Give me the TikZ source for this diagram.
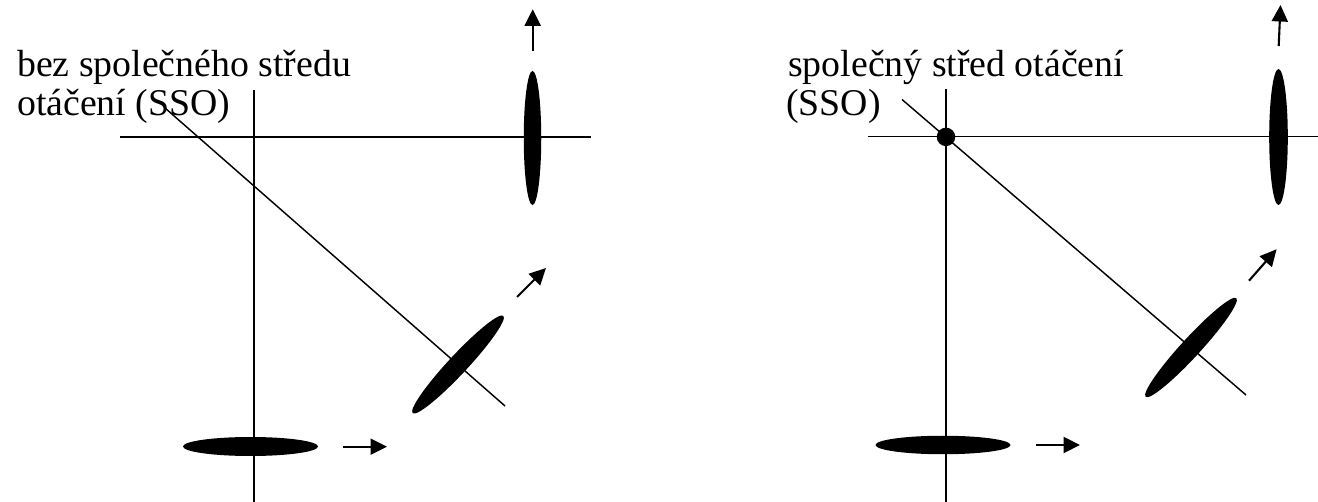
\documentclass[tikz,border=0pt]{standalone}
\usepackage{fontspec}
\setmainfont{Liberation Serif}
\usetikzlibrary{arrows.meta,shapes.geometric}
\tikzset{
  axis/.style={line width=1.45pt, black},
  lens/.style={ellipse, fill=black, draw=none, inner sep=0pt},
  motion/.style={line width=2.1pt, -{Triangle[length=16.5pt,width=16pt]}},
  label/.style={inner sep=0pt, anchor=base west, font=\fontsize{37.8}{40}\selectfont},
}
\begin{document}
\begin{tikzpicture}[x=1pt,y=-1pt]
\useasboundingbox (0,0) rectangle (1318,502);
% ---------- left panel ----------
\node[label] (lt1) at (17,76.7) {bez společného středu};
\node[label] (lt2) at (17,116) {otáčení (SSO)};
\coordinate (lvT) at (254,90);
\coordinate (lvB) at (254,502);
\coordinate (lhL) at (120,137);
\coordinate (lhR) at (591,137);
\coordinate (ldA) at (165,108);
\coordinate (ldB) at (505,406);
\draw[axis] (lvT) -- (lvB);
\draw[axis] (lhL) -- (lhR);
\draw[axis] (ldA) -- (ldB);
\node[lens, minimum width=135pt, minimum height=19pt] (lb) at (250.5,446.5) {};
\node[lens, minimum width=133pt, minimum height=19pt, rotate=47] (ld) at (458,364.5) {};
\node[lens, minimum width=17.5pt, minimum height=134pt] (lu) at (532.5,138) {};
\coordinate (la1s) at (343,446.7); \coordinate (la1e) at (387,446.7);
\coordinate (la2s) at (517,297);   \coordinate (la2e) at (546,268);
\coordinate (la3s) at (532.7,50.7); \coordinate (la3e) at (532.7,9.3);
\draw[motion] (la1s) -- (la1e);
\draw[motion] (la2s) -- (la2e);
\draw[motion] (la3s) -- (la3e);
% ---------- right panel ----------
\node[label] (rt1) at (788,76.3) {společný střed otáčení};
\node[label] (rt2) at (786,116) {(SSO)};
\coordinate (rvT) at (946,89.3);
\coordinate (rvB) at (946,502);
\coordinate (rhL) at (867.5,136.7);
\coordinate (rhR) at (1318,136.7);
\coordinate (rdA) at (902,99.5);
\coordinate (rdB) at (1246,395);
\draw[axis] (rvT) -- (rvB);
\draw[axis] (rhL) -- (rhR);
\draw[axis] (rdA) -- (rdB);
\node[circle, fill=black, inner sep=0pt, minimum size=18.5pt] (sso) at (946,136.9) {};
\node[lens, minimum width=135pt, minimum height=18.5pt] (rb) at (943,445) {};
\node[lens, minimum width=134pt, minimum height=19pt, rotate=47.4] (rd) at (1191,347.5) {};
\node[lens, minimum width=18.6pt, minimum height=136pt] (ru) at (1278.5,137) {};
\coordinate (ra1s) at (1036,445);   \coordinate (ra1e) at (1080,445);
\coordinate (ra2s) at (1249,280.7); \coordinate (ra2e) at (1276.6,249.3);
\coordinate (ra3s) at (1278.7,46);  \coordinate (ra3e) at (1280.5,5);
\draw[motion] (ra1s) -- (ra1e);
\draw[motion] (ra2s) -- (ra2e);
\draw[motion] (ra3s) -- (ra3e);
\end{tikzpicture}
\end{document}
